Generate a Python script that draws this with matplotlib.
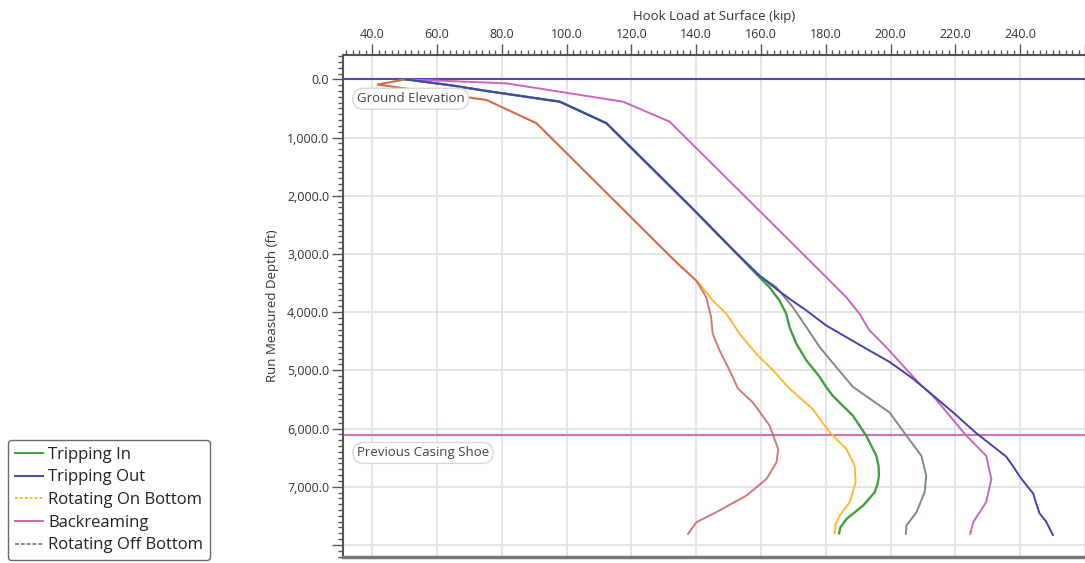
import matplotlib
matplotlib.use("Agg")
import matplotlib.pyplot as plt
from matplotlib.ticker import MultipleLocator, FuncFormatter
from matplotlib.lines import Line2D

plt.rcParams['font.family'] = ['Open Sans', 'DejaVu Sans']

# ---- data (hook load in kip, measured depth in ft) ----
tripping_in_depth = [0, 100, 200, 384, 754, 2183, 2943, 3343, 3571, 3800, 4029, 4257, 4543,
                     4829, 5114, 5286, 5440, 5782, 6125, 6468, 6650, 6810, 6950, 7095, 7325,
                     7553, 7700, 7800]
tripping_in_load = [50.3, 64.0, 75.3, 97.9, 112.3, 138.2, 151.6, 158.5, 162.6, 165.7, 167.8,
                    168.8, 170.9, 174.0, 178.1, 180.1, 182.2, 188.4, 192.5, 195.6, 196.3,
                    196.4, 196.0, 195.1, 191.5, 186.4, 184.5, 184.1]

tripping_out_depth = [0, 100, 200, 384, 754, 2183, 2943, 3371, 3600, 3771, 3971, 4229, 4429,
                      4629, 4857, 5143, 5381, 5724, 6083, 6300, 6485, 6650, 6828, 7000, 7115,
                      7300, 7459, 7600, 7831]
tripping_out_load = [50.3, 64.0, 75.3, 97.9, 112.3, 138.2, 151.6, 159.5, 164.7, 168.8, 174.0,
                     180.1, 186.3, 192.5, 199.7, 206.9, 212.0, 219.3, 226.5, 231.5, 235.7,
                     237.8, 239.9, 242.3, 244.0, 245.0, 246.0, 248.0, 250.1]

rot_on_depth = [0, 90, 355, 754, 3040, 3457, 3514, 3800, 4029, 4371, 4714, 5000, 5314, 5668,
                6067, 6353, 6639, 6924, 7266, 7496, 7650, 7800]
rot_on_load = [50.3, 41.7, 75.3, 90.7, 132.0, 140.0, 141.0, 145.1, 149.3, 153.4, 158.5,
               163.7, 168.8, 176.0, 181.2, 186.4, 188.9, 189.2, 187.4, 184.3, 183.0, 182.7]

backream_depth = [0, 69, 384, 727, 1070, 2943, 3286, 3743, 4029, 4314, 4600, 5229, 5440,
                  6125, 6468, 6867, 7266, 7609, 7810]
backream_load = [50.3, 81.4, 117.4, 131.8, 138.0, 171.9, 178.1, 186.3, 190.4, 193.5, 198.6,
                 208.9, 213.1, 223.4, 229.5, 231.1, 229.5, 225.5, 224.6]

rot_off_depth = [0, 100, 200, 384, 754, 2183, 2943, 3371, 3571, 3914, 4257, 4600, 4943,
                 5286, 5724, 6125, 6468, 6810, 7095, 7438, 7667, 7810]
rot_off_load = [50.3, 64.0, 75.3, 97.9, 112.3, 138.2, 151.6, 159.5, 164.7, 169.8, 174.0,
                178.1, 183.2, 188.4, 199.7, 204.9, 209.5, 211.0, 210.5, 208.0, 204.9, 204.7]

sliding_depth = [0, 90, 355, 754, 3040, 3200, 3457, 3743, 4086, 4371, 4657, 5000, 5314,
                 5553, 5953, 6353, 6581, 6867, 7153, 7438, 7609, 7810]
sliding_load = [50.3, 41.7, 75.3, 90.7, 132.0, 134.9, 140.0, 143.1, 144.6, 145.1, 147.2,
                150.3, 152.9, 157.5, 162.7, 165.3, 164.8, 161.7, 155.5, 146.2, 140.1, 137.5]

ground_elevation = 0.0
casing_shoe = 6110.0

legend_labels = ["Tripping In", "Tripping Out", "Rotating On Bottom", "Backreaming",
                 "Rotating Off Bottom"]

# ---- figure ----
fig = plt.figure(figsize=(10.85, 5.63), dpi=100)
ax = fig.add_axes([343 / 1085, 1 - 557 / 563, 1 - 343 / 1085, (557 - 55) / 563])

c_green = '#3DA33D'
c_blue = '#4343B0'
c_yellow = '#FFB833'
c_mag = '#CC66BB'
c_gray = '#7A8C88'
c_brown = '#C8585A'

lw = 1.4
ax.plot(rot_on_load, rot_on_depth, color=c_yellow, lw=lw, zorder=3)
ax.plot(sliding_load, sliding_depth, color=c_brown, lw=lw, alpha=0.8, zorder=3.1)
ax.plot(backream_load, backream_depth, color=c_mag, lw=lw, zorder=3)
ax.plot(tripping_in_load, tripping_in_depth, color=c_green, lw=lw + 0.3, zorder=3)
ax.plot(rot_off_load, rot_off_depth, color=c_gray, lw=lw, zorder=3.1)
ax.plot(tripping_out_load, tripping_out_depth, color=c_blue, lw=lw, zorder=3.2)

ax.axhline(ground_elevation, color='#4A4AC0', lw=1.5, zorder=2.5)
ax.axhline(casing_shoe, color='#D070C0', lw=1.5, zorder=2.5)

bbox = dict(boxstyle='round,pad=0.3,rounding_size=0.8', fc='white', ec='#D9D9D9', lw=1)
ax.annotate("Ground Elevation", xy=(0, ground_elevation), xycoords=('axes fraction', 'data'),
            xytext=(10, -14), textcoords='offset points', ha='left', va='center',
            fontsize=9.5, color='#444444', bbox=bbox, zorder=4)
ax.annotate("Previous Casing Shoe", xy=(0, casing_shoe), xycoords=('axes fraction', 'data'),
            xytext=(10, -13), textcoords='offset points', ha='left', va='center',
            fontsize=9.5, color='#444444', bbox=bbox, zorder=4)

ax.set_xlim(31, 260)
ax.set_ylim(8208, -418)

ax.xaxis.set_ticks_position('top')
ax.xaxis.set_label_position('top')
ax.xaxis.set_major_locator(MultipleLocator(20))
ax.xaxis.set_minor_locator(MultipleLocator(2))
ax.yaxis.set_major_locator(MultipleLocator(1000))
ax.yaxis.set_minor_locator(MultipleLocator(100))
ax.xaxis.set_major_formatter(FuncFormatter(lambda v, p: f"{v:.1f}" if v < 250 else ""))
ax.yaxis.set_major_formatter(FuncFormatter(lambda v, p: f"{v:,.1f}" if v < 7500 else ""))

ax.tick_params(axis='both', which='major', length=8, width=1, color='#555555',
               labelsize=9, labelcolor='#333333', pad=2)
ax.tick_params(axis='both', which='minor', length=3.5, width=1, color='#555555')

ax.set_xlabel("Hook Load at Surface (kip)", fontsize=9.5, color='#333333', labelpad=6)
ax.set_ylabel("Run Measured Depth (ft)", fontsize=9.5, color='#333333', labelpad=6)

ax.grid(True, which='major', color='#E3E3E3', lw=1.3, zorder=0)
ax.set_axisbelow(True)
ax.spines['right'].set_visible(False)
for s in ['top', 'left']:
    ax.spines[s].set_color('#555555')
    ax.spines[s].set_linewidth(1.5)
ax.spines['bottom'].set_color('#777777')
ax.spines['bottom'].set_linewidth(2.5)

handles = [
    Line2D([], [], color=c_green, lw=1.4),
    Line2D([], [], color=c_blue, lw=1.4),
    Line2D([], [], color=c_yellow, lw=1.4, ls=(0, (1.5, 1))),
    Line2D([], [], color=c_mag, lw=1.4),
    Line2D([], [], color='#888888', lw=1.4, ls=(0, (2, 1))),
]
leg = fig.legend(handles, legend_labels, loc='lower left',
                 bbox_to_anchor=(8 / 1085, 3 / 563), frameon=True, fancybox=True,
                 fontsize=12, handlelength=1.7, handletextpad=0.3, labelspacing=0.4,
                 borderpad=0.4, borderaxespad=0)
leg.get_frame().set_edgecolor('#444444')
leg.get_frame().set_linewidth(1)
for t in leg.get_texts():
    t.set_color('#222222')

fig.savefig("out.png", dpi=100)
